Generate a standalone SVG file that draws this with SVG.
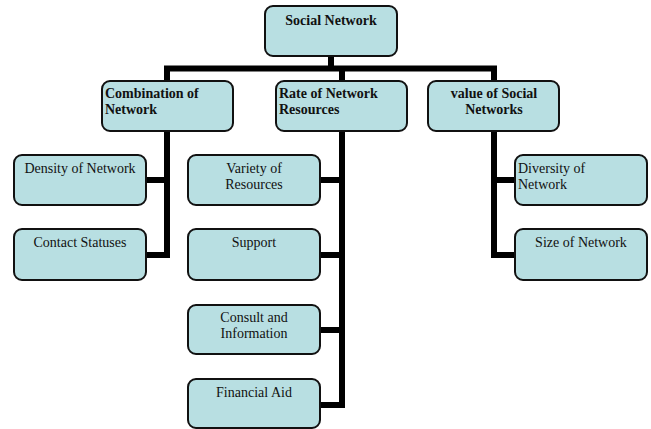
<svg xmlns="http://www.w3.org/2000/svg" width="651" height="429" viewBox="0 0 651 429">
<style>
.box{fill:#b8dfe2;stroke:#111;stroke-width:2}
.t{font-family:"Liberation Serif","Times New Roman",serif;font-size:14px;fill:#111}
.b{font-weight:bold}
.c{text-anchor:middle}
.ln{fill:none;stroke:#000;stroke-width:6;stroke-linejoin:miter;stroke-linecap:butt}
</style>
<rect width="651" height="429" fill="#fff"/>
<g id="connectors">
<path class="ln" d="M331 56 V68.5 M167 81 V68.5 H494 V81 M342 68.5 V81"/>
<path class="ln" d="M167 131 V255 H146 M167 180 H146"/>
<path class="ln" d="M342 131 V405 H320 M342 180 H320 M342 255 H320 M342 330 H320"/>
<path class="ln" d="M494 131 V255 H515 M494 180 H515"/>
</g>
<g id="social-network">
<rect class="box" x="265" y="6" width="132" height="50" rx="8"/>
<text class="t b c" x="331" y="25">Social Network</text>
</g>
<g id="combination">
<rect class="box" x="102" y="81" width="131" height="50" rx="8"/>
<text class="t b" x="105" y="98">Combination of</text>
<text class="t b" x="105" y="114">Network</text>
</g>
<g id="rate">
<rect class="box" x="276" y="81" width="131" height="50" rx="8"/>
<text class="t b" x="279" y="98">Rate of Network</text>
<text class="t b" x="279" y="114">Resources</text>
</g>
<g id="value">
<rect class="box" x="428" y="81" width="131" height="50" rx="8"/>
<text class="t b c" x="494" y="98">value of Social</text>
<text class="t b c" x="494" y="114">Networks</text>
</g>
<g id="density">
<rect class="box" x="14" y="155" width="132" height="50" rx="8"/>
<text class="t c" x="80" y="173">Density of Network</text>
</g>
<g id="contact">
<rect class="box" x="14" y="229" width="132" height="51" rx="8"/>
<text class="t c" x="80" y="247">Contact Statuses</text>
</g>
<g id="variety">
<rect class="box" x="188" y="155" width="132" height="50" rx="8"/>
<text class="t c" x="254" y="173">Variety of</text>
<text class="t c" x="254" y="189">Resources</text>
</g>
<g id="support">
<rect class="box" x="188" y="229" width="132" height="51" rx="8"/>
<text class="t c" x="254" y="247">Support</text>
</g>
<g id="consult">
<rect class="box" x="188" y="305" width="132" height="49" rx="8"/>
<text class="t c" x="254" y="322">Consult and</text>
<text class="t c" x="254" y="338">Information</text>
</g>
<g id="financial">
<rect class="box" x="188" y="379" width="132" height="49" rx="8"/>
<text class="t c" x="254" y="397">Financial Aid</text>
</g>
<g id="diversity">
<rect class="box" x="515" y="155" width="132" height="50" rx="8"/>
<text class="t" x="518" y="173">Diversity of</text>
<text class="t" x="518" y="189">Network</text>
</g>
<g id="size">
<rect class="box" x="515" y="229" width="132" height="51" rx="8"/>
<text class="t c" x="581" y="247">Size of Network</text>
</g>
</svg>
